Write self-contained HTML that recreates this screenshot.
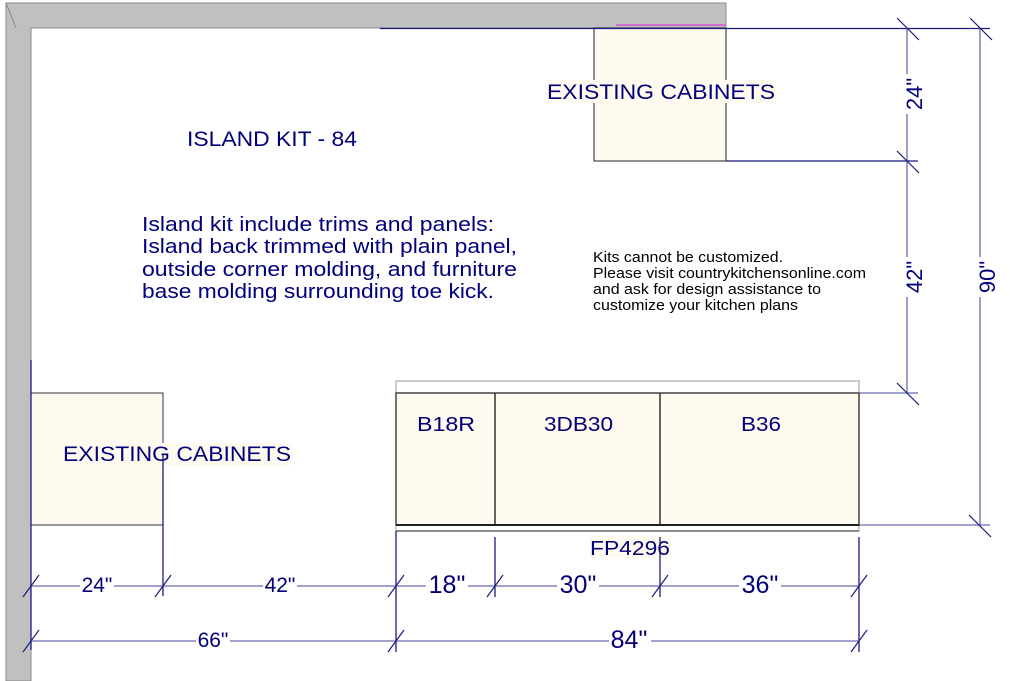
<!DOCTYPE html>
<html><head><style>body{margin:0;background:#fff}svg{display:block}text{font-family:"Liberation Sans",Arial,sans-serif;fill:#00007a}</style></head>
<body>
<svg width="1010" height="681" viewBox="0 0 1010 681" xmlns="http://www.w3.org/2000/svg">
<polygon points="6,3 726,3 726,28 31,28 31,681 6,681" fill="#c0c0c0" stroke="#888" stroke-width="1"/>
<line x1="6" y1="3" x2="16" y2="28" stroke="#888"/>
<line x1="31" y1="28" x2="726" y2="28" stroke="#888"/>
<rect x="594" y="28" width="132" height="133" fill="#fffaf0" stroke="#222" stroke-width="1"/>
<line x1="616" y1="25" x2="726" y2="25" stroke="#e020e0" stroke-width="1"/>
<line x1="380" y1="28.5" x2="990" y2="28.5" stroke="#1a1a80" stroke-width="1.2"/>
<line x1="726" y1="161" x2="918" y2="161" stroke="#1a1a80" stroke-width="1.2"/>
<rect x="546" y="80" width="230" height="23" fill="#fffaf0"/>
<text x="547" y="99" font-size="21" textLength="228" lengthAdjust="spacingAndGlyphs">EXISTING CABINETS</text>
<text x="187" y="146" font-size="21" textLength="170" lengthAdjust="spacingAndGlyphs">ISLAND KIT - 84</text>
<g font-size="20">
<text x="142" y="231" textLength="352" lengthAdjust="spacingAndGlyphs">Island kit include trims and panels:</text>
<text x="142" y="253" textLength="375" lengthAdjust="spacingAndGlyphs">Island back trimmed with plain panel,</text>
<text x="142" y="276" textLength="375" lengthAdjust="spacingAndGlyphs">outside corner molding, and furniture</text>
<text x="142" y="298" textLength="352" lengthAdjust="spacingAndGlyphs">base molding surrounding toe kick.</text>
</g>
<g font-size="15" style="fill:#000">
<text x="593" y="262" textLength="190" lengthAdjust="spacingAndGlyphs" style="fill:#000">Kits cannot be customized.</text>
<text x="593" y="278" textLength="273" lengthAdjust="spacingAndGlyphs" style="fill:#000">Please visit countrykitchensonline.com</text>
<text x="593" y="294" textLength="228" lengthAdjust="spacingAndGlyphs" style="fill:#000">and ask for design assistance to</text>
<text x="593" y="310" textLength="205" lengthAdjust="spacingAndGlyphs" style="fill:#000">customize your kitchen plans</text>
</g>
<g stroke="#6a6ab0" stroke-width="1.3">
<line x1="907" y1="28" x2="907" y2="393"/>
<line x1="980" y1="28" x2="980" y2="525"/>
<line x1="859" y1="393" x2="918" y2="393"/>
<line x1="859" y1="525" x2="990" y2="525"/>
</g>
<g stroke="#1a1a80" stroke-width="1.2">
<line x1="897" y1="18" x2="919" y2="40"/><line x1="970" y1="18" x2="992" y2="40"/>
<line x1="897" y1="151" x2="919" y2="173"/>
<line x1="897" y1="383" x2="919" y2="405"/>
<line x1="969" y1="515" x2="991" y2="537"/>
</g>
<rect x="898" y="74" width="18" height="40" fill="#fff"/>
<text transform="translate(922,94) rotate(-90)" font-size="22" text-anchor="middle">24"</text>
<rect x="898" y="257" width="18" height="40" fill="#fff"/>
<text transform="translate(922,277) rotate(-90)" font-size="22" text-anchor="middle">42"</text>
<rect x="971" y="257" width="18" height="40" fill="#fff"/>
<text transform="translate(995,277) rotate(-90)" font-size="22" text-anchor="middle">90"</text>
<rect x="396" y="381" width="463" height="150" fill="#fff" stroke="#999"/>
<rect x="396" y="393" width="463" height="132" fill="#fffaf0" stroke="#444" stroke-width="1.5"/>
<line x1="495" y1="393" x2="495" y2="525" stroke="#333" stroke-width="1.5"/>
<line x1="660" y1="393" x2="660" y2="525" stroke="#333" stroke-width="1.5"/>
<line x1="396" y1="525" x2="859" y2="525" stroke="#222" stroke-width="2"/>
<line x1="396" y1="531" x2="859" y2="531" stroke="#666" stroke-width="1.5"/>
<text x="417" y="431" font-size="20" textLength="58" lengthAdjust="spacingAndGlyphs">B18R</text>
<text x="544" y="431" font-size="20" textLength="69" lengthAdjust="spacingAndGlyphs">3DB30</text>
<text x="741" y="431" font-size="20" textLength="40" lengthAdjust="spacingAndGlyphs">B36</text>
<rect x="589" y="536" width="82" height="22" fill="#fffaf0"/>
<text x="590" y="555" font-size="20" textLength="80" lengthAdjust="spacingAndGlyphs">FP4296</text>
<rect x="31" y="393" width="132" height="132" fill="#fffaf0" stroke="#333"/>
<line x1="31" y1="360" x2="31" y2="650" stroke="#1a1a80" stroke-width="1.3"/>
<rect x="62" y="443" width="230" height="23" fill="#fffaf0"/>
<text x="63" y="461" font-size="21" textLength="228" lengthAdjust="spacingAndGlyphs">EXISTING CABINETS</text>
<g stroke="#1a1a80" stroke-width="1.3">
<line x1="163" y1="455" x2="163" y2="596"/>
<line x1="396" y1="531" x2="396" y2="652"/>
<line x1="495" y1="537" x2="495" y2="597"/>
<line x1="660" y1="537" x2="660" y2="597"/>
<line x1="859" y1="537" x2="859" y2="652"/>
</g>
<g stroke="#6a6ab0" stroke-width="1.3">
<line x1="31" y1="586" x2="859" y2="586"/>
<line x1="31" y1="641" x2="859" y2="641"/>
</g>
<g stroke="#1a1a80" stroke-width="1.2">
<line x1="23" y1="597" x2="39" y2="575"/><line x1="155" y1="597" x2="171" y2="575"/>
<line x1="388" y1="597" x2="404" y2="575"/><line x1="487" y1="597" x2="503" y2="575"/>
<line x1="652" y1="597" x2="668" y2="575"/><line x1="851" y1="597" x2="867" y2="575"/>
<line x1="23" y1="652" x2="39" y2="630"/><line x1="388" y1="652" x2="404" y2="630"/>
<line x1="851" y1="652" x2="867" y2="630"/>
</g>
<g fill="#fff">
<rect x="80" y="576" width="34" height="20"/><rect x="263" y="576" width="34" height="20"/>
<rect x="426" y="576" width="42" height="20"/><rect x="557" y="576" width="42" height="20"/>
<rect x="739" y="576" width="42" height="20"/>
<rect x="196" y="631" width="34" height="20"/><rect x="609" y="631" width="42" height="20"/>
</g>
<text x="97" y="592" font-size="21" text-anchor="middle">24"</text>
<text x="280" y="592" font-size="21" text-anchor="middle">42"</text>
<text x="447" y="593" font-size="25" text-anchor="middle">18"</text>
<text x="578" y="593" font-size="25" text-anchor="middle">30"</text>
<text x="760" y="593" font-size="25" text-anchor="middle">36"</text>
<text x="213" y="647" font-size="21" text-anchor="middle">66"</text>
<text x="629" y="648" font-size="25" text-anchor="middle">84"</text>
</svg>
</body></html>
